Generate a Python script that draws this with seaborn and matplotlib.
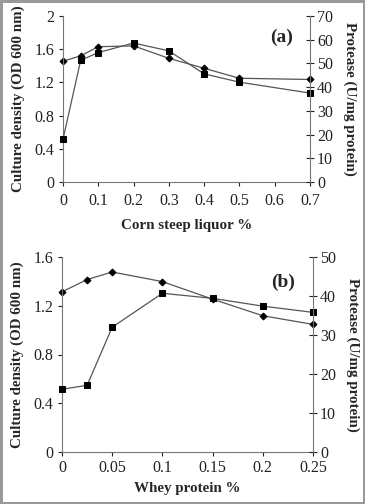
import numpy as np
import pandas as pd
import matplotlib
matplotlib.use('Agg')
import matplotlib.pyplot as plt
import seaborn as sns

sns.set_style('white')
plt.rcParams['font.family'] = ['Liberation Serif', 'DejaVu Serif']

# (a) corn steep liquor
csl = [0, 0.05, 0.1, 0.2, 0.3, 0.4, 0.5, 0.7]
csl_od = [1.455, 1.52, 1.63, 1.64, 1.49, 1.37, 1.25, 1.235]
csl_protease = [18.0, 51.3, 54.6, 58.6, 55.3, 45.6, 42.1, 37.5]

# (b) whey protein
whey = [0, 0.025, 0.05, 0.1, 0.15, 0.2, 0.25]
whey_od = [1.314, 1.415, 1.477, 1.398, 1.254, 1.118, 1.047]
whey_protease = [16.1, 17.1, 32.0, 40.7, 39.4, 37.4, 35.8]

line_col = '#555555'
spine_col = '#777777'
tick_fs = 11.5
lab_fs = 10.8


def panel(ax, x, od, prot, xticks, xlabel, yl, yticks, yr, rticks, tag, xpad, lpad):
    sns.lineplot(x=x, y=od, ax=ax, color=line_col, lw=0.9, marker='D',
                 markersize=3.5, markerfacecolor='black', markeredgecolor='black',
                 clip_on=False)
    ax.set_xlim(xticks[0], xticks[-1])
    ax.set_ylim(*yl)
    ax.set_xticks(xticks)
    ax.set_xticklabels([f'{t:g}' for t in xticks])
    ax.set_yticks(yticks)
    ax.set_yticklabels([f'{t:g}' for t in yticks])
    ax.set_xlabel(xlabel, fontweight='bold', fontsize=lab_fs, labelpad=lpad)
    ax.set_ylabel('Culture density (OD 600 nm)', fontweight='bold', fontsize=lab_fs, labelpad=7)
    ax.tick_params(axis='both', direction='out', length=3, width=0.8, colors='#222222',
                   labelsize=tick_fs, bottom=True, left=True, pad=3)
    ax.tick_params(axis='x', pad=xpad)
    for s in ['top', 'right']:
        ax.spines[s].set_visible(False)
    for s in ['left', 'bottom']:
        ax.spines[s].set_color(spine_col)
        ax.spines[s].set_linewidth(0.8)

    ax2 = ax.twinx()
    sns.lineplot(x=x, y=prot, ax=ax2, color=line_col, lw=0.9, marker='s',
                 markersize=5, markerfacecolor='black', markeredgecolor='black',
                 clip_on=False)
    ax2.set_ylim(*yr)
    ax2.set_yticks(rticks)
    ax2.set_yticklabels([f'{t:g}' for t in rticks])
    ax2.set_ylabel('Protease (U/mg protein)', fontweight='bold', fontsize=lab_fs,
                   rotation=270, labelpad=17)
    ax2.tick_params(axis='y', direction='inout', length=6, width=0.8, colors='#222222',
                    labelsize=tick_fs, right=True, pad=2)
    for s in ['top', 'left', 'bottom']:
        ax2.spines[s].set_visible(False)
    ax2.spines['right'].set_color(spine_col)
    ax2.spines['right'].set_linewidth(0.8)
    ax2.text(0.93, 0.87, tag, transform=ax2.transAxes, ha='right', va='center',
             fontweight='bold', fontsize=14)


fig = plt.figure(figsize=(3.65, 5.04), dpi=100)
fig.patch.set_edgecolor('#999999')
fig.patch.set_linewidth(2.5)

ax_a = fig.add_axes([63 / 365, 1 - 182 / 504, 247 / 365, 166 / 504])
ax_b = fig.add_axes([62 / 365, 1 - 452 / 504, 251 / 365, 195 / 504])

panel(ax_a, csl, csl_od, csl_protease, [0, 0.1, 0.2, 0.3, 0.4, 0.5, 0.6, 0.7],
      'Corn steep liquor %', (0, 2), [0, 0.4, 0.8, 1.2, 1.6, 2],
      (0, 70), [0, 10, 20, 30, 40, 50, 60, 70], '(a)', 5, 7)
panel(ax_b, whey, whey_od, whey_protease, [0, 0.05, 0.1, 0.15, 0.2, 0.25],
      'Whey protein %', (0, 1.6), [0, 0.4, 0.8, 1.2, 1.6],
      (0, 50), [0, 10, 20, 30, 40, 50], '(b)', 3, 4)

fig.savefig('out.png', dpi=100)
